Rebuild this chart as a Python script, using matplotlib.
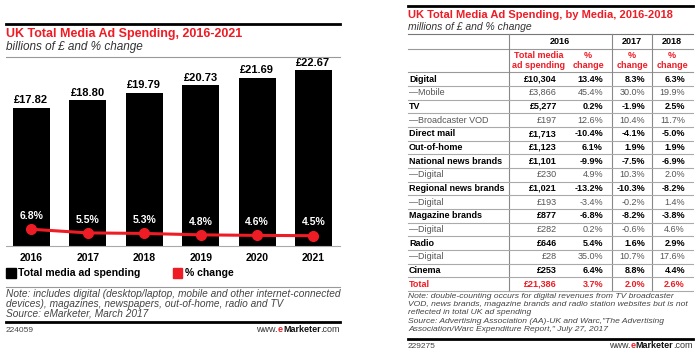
import numpy as np
from matplotlib import pyplot as plt

# left chart data
years = ["2016", "2017", "2018", "2019", "2020", "2021"]
spend_bn = [17.82, 18.80, 19.79, 20.73, 21.69, 22.67]
pct_change = [6.8, 5.5, 5.3, 4.8, 4.6, 4.5]

# right table data
media = ["Digital", "—Mobile", "TV", "—Broadcaster VOD", "Direct mail", "Out-of-home",
         "National news brands", "—Digital", "Regional news brands", "—Digital",
         "Magazine brands", "—Digital", "Radio", "—Digital", "Cinema", "Total"]
spend_2016 = [10304, 3866, 5277, 197, 1713, 1123, 1101, 230, 1021, 193, 877, 282, 646, 28, 253, 21386]
chg_2016 = [13.4, 45.4, 0.2, 12.6, -10.4, 6.1, -9.9, 4.9, -13.2, -3.4, -6.8, 0.2, 5.4, 35.0, 6.4, 3.7]
chg_2017 = [8.3, 30.0, -1.9, 10.4, -4.1, 1.9, -7.5, 10.3, -10.3, -0.2, -8.2, -0.6, 1.6, 10.7, 8.8, 2.0]
chg_2018 = [6.3, 19.9, 2.5, 11.7, -5.0, 1.9, -6.9, 2.0, -8.2, 1.4, -3.8, 4.6, 2.9, 17.6, 4.4, 2.6]

W, H = 700, 354
RED = '#ee1c25'
GREY = '#444444'
plt.rcParams['font.family'] = ['Liberation Sans', 'DejaVu Sans']

fig = plt.figure(figsize=(W / 100, H / 100), dpi=100)


def fx(x):
    return x / W


def fy(y):
    return 1 - y / H


def hline(x0, x1, y, lw=0.8, color='#999999'):
    fig.add_artist(plt.Line2D([fx(x0), fx(x1)], [fy(y), fy(y)], lw=lw, color=color))


def vline(x, y0, y1, lw=0.8, color='#999999'):
    fig.add_artist(plt.Line2D([fx(x), fx(x)], [fy(y0), fy(y1)], lw=lw, color=color))


def txt(x, y, s, **kw):
    kw.setdefault('va', 'center')
    return fig.text(fx(x), fy(y), s, **kw)


def emarketer(xr, y, size):
    # right-aligned "www.eMarketer.com" with red e
    parts = [("www.", 'normal', '#333333'), ("e", 'bold', RED),
             ("Marketer", 'bold', '#111111'), (".com", 'normal', '#333333')]
    r = fig.canvas.get_renderer()
    widths = []
    for s, w, c in parts:
        t = fig.text(0, 0, s, fontsize=size, fontweight=w)
        widths.append(t.get_window_extent(r).width)
        t.remove()
    x = xr - sum(widths)
    for (s, w, c), wd in zip(parts, widths):
        txt(x, y, s, fontsize=size, fontweight=w, color=c)
        x += wd


# ---------------- left chart ----------------
hline(6, 340, 24, lw=2, color='black')
txt(6, 34, "UK Total Media Ad Spending, 2016-2021", fontsize=9, fontweight='bold', color=RED)
txt(6, 47, "billions of £ and % change", fontsize=8.5, style='italic', color='#333333')
hline(6, 340, 57)

ax = fig.add_axes([fx(6), fy(246), fx(340) - fx(6), (246 - 62) / H])
x = np.arange(len(years))
ax.bar(x, spend_bn, width=0.656, color='black')
ax.set_xlim(-0.452, 5.47)
ax.set_ylim(0, 23.74)
for i, v in enumerate(spend_bn):
    ax.annotate(f"£{v:.2f}", (i, v), xytext=(0, 2), textcoords='offset points',
                ha='center', va='bottom', fontsize=8, fontweight='bold')
ax.set_xticks(x)
ax.set_xticklabels(years, fontsize=7.5, fontweight='bold')
ax.tick_params(length=0, pad=5)
ax.set_yticks([])
for s in ['top', 'left', 'right']:
    ax.spines[s].set_visible(False)
ax.spines['bottom'].set_color('#aaaaaa')
ax.spines['bottom'].set_linewidth(0.8)

ax2 = ax.twinx()
ax2.plot(x, pct_change, color=RED, lw=2.2, marker='o', ms=7)
ax2.set_ylim(0.79, 66.9)
ax2.set_yticks([])
for s in ['top', 'left', 'right', 'bottom']:
    ax2.spines[s].set_visible(False)
for i, v in enumerate(pct_change):
    ax2.annotate(f"{v:.1f}%", (i, v), xytext=(0, 6), textcoords='offset points',
                 ha='center', va='bottom', fontsize=7.5, fontweight='bold', color='white')

# legend
fig.add_artist(plt.Rectangle((fx(6), fy(278)), 10 / W, 10 / H, color='black'))
txt(18, 273, "Total media ad spending", fontsize=7.6, fontweight='bold')
fig.add_artist(plt.Rectangle((fx(173), fy(278)), 9 / W, 10 / H, color=RED))
txt(185, 273, "% change", fontsize=7.6, fontweight='bold')

hline(6, 340, 287)
notes_l = ["Note: includes digital (desktop/laptop, mobile and other internet-connected",
           "devices), magazines, newspapers, out-of-home, radio and TV",
           "Source: eMarketer, March 2017"]
for i, s in enumerate(notes_l):
    txt(6, 294 + i * 10, s, fontsize=7.3, style='italic', color=GREY)
hline(6, 340, 321.5, lw=2, color='black')
txt(6, 330, "224059", fontsize=6, color=GREY)
emarketer(340, 330, 6.5)

# ---------------- right table ----------------
L, R = 408, 693
hline(L, R, 6, lw=2, color='black')
txt(L, 15.5, "UK Total Media Ad Spending, by Media, 2016-2018", fontsize=8, fontweight='bold', color=RED)
txt(L, 27, "millions of £ and % change", fontsize=7.5, style='italic', color='#333333')

row0, dy = 79, 13.67
cols = [509, 612, 652]
top, bottom = 34, row0 + (len(media) - 0.5) * dy
hline(L, R, top, color='#777777')
hline(L, R, 49)
hline(L, R, 72)
for c in cols:
    vline(c, top, bottom, color='#888888')

FS = 6.5
hdr_kw = dict(fontsize=FS, fontweight='bold', ha='center')
txt(560, 42, "2016", **hdr_kw)
txt(632, 42, "2017", **hdr_kw)
txt(672, 42, "2018", **hdr_kw)
sub_kw = dict(fontsize=FS, fontweight='bold', ha='center', color=RED, linespacing=1.05)
txt(539, 60.5, "Total media\nad spending", **sub_kw)
for cx in [588, 632, 672]:
    txt(cx, 60.5, "%\nchange", **sub_kw)

xr = [557, 603, 645, 685]
for i, name in enumerate(media):
    y = row0 + i * dy
    if name == "Total":
        kw = dict(fontweight='bold', color=RED)
    elif name.startswith("—"):
        kw = dict(fontweight='normal', color='#555555')
    else:
        kw = dict(fontweight='bold', color='black')
    txt(L + 1, y, name, fontsize=FS, **kw)
    vals = [f"£{spend_2016[i]:,}", f"{chg_2016[i]:.1f}%", f"{chg_2017[i]:.1f}%", f"{chg_2018[i]:.1f}%"]
    for xx, s in zip(xr, vals):
        txt(xx, y, s, fontsize=FS, ha='right', **kw)
    hline(L, R, y + dy / 2, color='#aaaaaa')

notes_r = ["Note: double-counting occurs for digital revenues from TV broadcaster",
           "VOD, news brands, magazine brands and radio station websites but is not",
           "reflected in total UK ad spending",
           "Source: Advertising Association (AA)-UK and Warc,\"The Advertising",
           "Association/Warc Expenditure Report,\" July 27, 2017"]
for i, s in enumerate(notes_r):
    txt(L, 296 + i * 8.4, s, fontsize=6.1, style='italic', color=GREY)
hline(L, R, 338.5, lw=2, color='black')
txt(L, 346, "229275", fontsize=6, color=GREY)
emarketer(R, 346, 6.5)

plt.savefig("out.png", dpi=100)
